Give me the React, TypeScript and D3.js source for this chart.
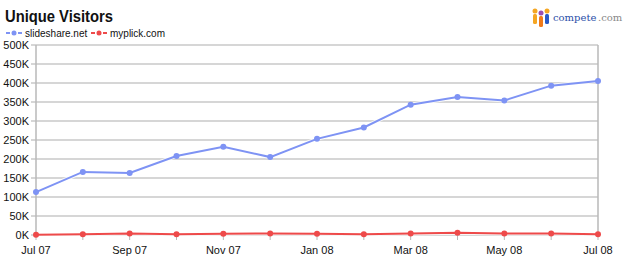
import React from "react";
import * as d3 from "d3";

const months = ["Jul 07","Aug 07","Sep 07","Oct 07","Nov 07","Dec 07","Jan 08","Feb 08","Mar 08","Apr 08","May 08","Jun 08","Jul 08"];
const slideshare = [113, 166, 163, 208, 232, 205, 253, 283, 343, 363, 354, 393, 405];
const myplick = [0.5, 2, 4, 2, 3, 4, 3, 2, 4, 6, 4, 4, 2];
const yTicks = [0, 50, 100, 150, 200, 250, 300, 350, 400, 450, 500];
const seriesNames = ["slideshare.net", "myplick.com"];
const colors = ["#7e93f4", "#ee4a4a"];

export default function App() {
  const W = 630, H = 267;
  const x = d3.scaleLinear().domain([0, months.length - 1]).range([36, 598]);
  const y = d3.scaleLinear().domain([0, 500]).range([235, 45]);
  const line = d3.line<number>().x((_, i) => x(i)).y(d => y(d));
  const series = [slideshare, myplick];
  const font = "'Liberation Sans', Arial, sans-serif";
  return (
    <svg width={W} height={H} style={{ position: "absolute", left: 0, top: 0, background: "#fff" }} fontFamily={font}>
      <text x={5} y={22} fontSize={16} fontWeight="bold" fill="#111" textLength={108} lengthAdjust="spacingAndGlyphs">Unique Visitors</text>
      {seriesNames.map((n, i) => {
        const lx = i === 0 ? 6 : 91;
        return (
          <g key={n}>
            <line x1={lx} x2={lx + 16} y1={33} y2={33} stroke={colors[i]} strokeWidth={2} strokeDasharray="4,2" />
            <circle cx={lx + 8} cy={33} r={2.5} fill={colors[i]} />
            <text x={lx + 19} y={37} fontSize={10} fill="#111">{n}</text>
          </g>
        );
      })}
      {/* logo */}
      <g>
        <circle cx={535} cy={11} r={2.5} fill="#f5a623" />
        <rect x={533} y={14} width={4} height={10} rx={1.5} fill="#f5a623" />
        <circle cx={541} cy={13} r={2.5} fill="#9b4fb0" />
        <rect x={539} y={16} width={4} height={11} rx={1.5} fill="#f07a1a" />
        <circle cx={547} cy={11} r={2.5} fill="#f5a623" />
        <rect x={545} y={14} width={4} height={10} rx={1.5} fill="#2a5bc7" />
        <text x={553} y={21} fontSize={10} fontFamily="'DejaVu Serif', serif" fill="#2a4fa8">compete</text>
        <text x={598} y={21} fontSize={10} fontFamily="'DejaVu Serif', serif" fill="#888">.com</text>
      </g>
      {/* grid */}
      {yTicks.map(t => (
        <g key={t}>
          <line x1={31} x2={598} y1={y(t)} y2={y(t)} stroke="#c8c8c8" strokeWidth={1.5} />
          <text x={29} y={y(t) + 4} fontSize={11} textAnchor="end" fill="#111">{t}K</text>
        </g>
      ))}
      <line x1={36} x2={36} y1={45} y2={236} stroke="#b8b8b8" strokeWidth={1.5} />
      <line x1={598} x2={598} y1={45} y2={236} stroke="#b8b8b8" strokeWidth={1.5} />
      {months.map((m, i) => (
        <g key={m}>
          <line x1={x(i)} x2={x(i)} y1={235} y2={240} stroke="#b8b8b8" strokeWidth={1} />
          {i % 2 === 0 && <text x={x(i)} y={254} fontSize={11} textAnchor="middle" fill="#111">{m}</text>}
        </g>
      ))}
      {series.map((s, k) => (
        <g key={k}>
          <path d={line(s) || ""} fill="none" stroke="#fff" strokeWidth={4} opacity={0.8} />
          <path d={line(s) || ""} fill="none" stroke={colors[k]} strokeWidth={2} />
          {s.map((v, i) => (
            <circle key={i} cx={x(i)} cy={y(v)} r={3} fill={colors[k]} />
          ))}
        </g>
      ))}
    </svg>
  );
}
